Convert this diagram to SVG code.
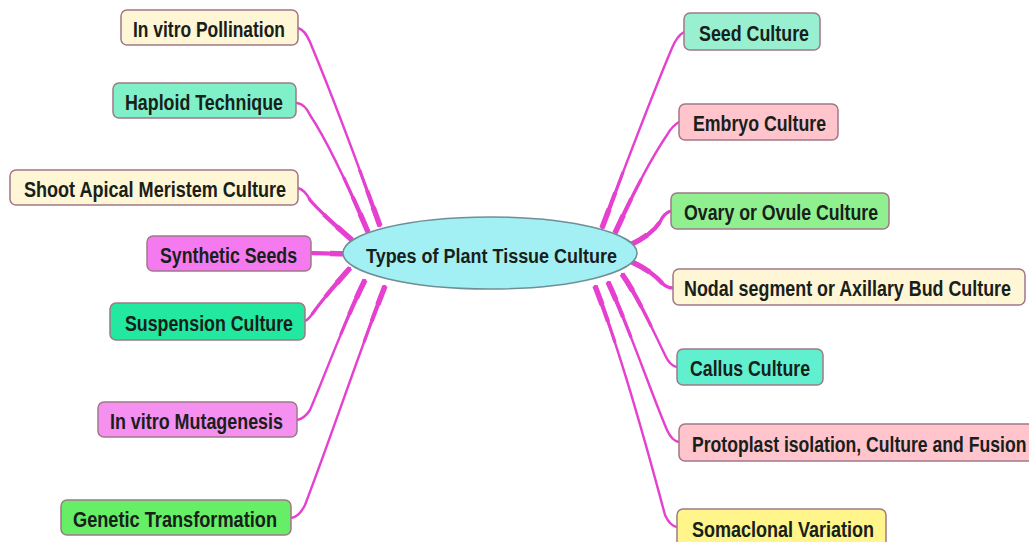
<svg xmlns="http://www.w3.org/2000/svg" xmlns:xlink="http://www.w3.org/1999/xlink" width="1029" height="542" viewBox="0 0 1029 542">
<style>
.box{stroke:#a07888;stroke-width:1.5}
.t{font-family:"Liberation Sans Narrow","Liberation Sans",Arial,sans-serif;font-weight:bold;font-size:22px;fill:#18201a}
.c{fill:none;stroke:#e540cf;stroke-width:2.4;stroke-linecap:round}
.k1{fill:none;stroke:#e540cf;stroke-width:3.2;stroke-dasharray:60 2000}
.k2{fill:none;stroke:#e540cf;stroke-width:4.2;stroke-dasharray:38 2000}
.k3{fill:none;stroke:#e540cf;stroke-width:5.4;stroke-dasharray:20 2000}
</style>
<defs>
<path id="p1" d="M380 226 C360 170,330 90,310 42 Q305 30,298 28"/>
<path id="p2" d="M368 232 C350 190,330 145,310 115 Q305 104,297 103"/>
<path id="p3" d="M352 240 C335 225,320 212,310 200 Q305 190,298 188"/>
<path id="p4" d="M350 254 L311 253"/>
<path id="p5" d="M350 268 C335 285,322 300,313 313 Q308 320,305 321"/>
<path id="p6" d="M365 280 C345 320,325 375,310 410 Q304 419,297 420"/>
<path id="p7" d="M385 286 C360 350,330 440,305 505 Q299 517,291 518"/>
<path id="p8" d="M602 228 C620 180,650 100,672 48 Q677 36,684 32"/>
<path id="p9" d="M615 233 C630 200,650 160,667 135 Q672 126,679 122"/>
<path id="p10" d="M630 245 C645 238,655 230,660 222 Q664 213,671 211"/>
<path id="p11" d="M632 262 C645 268,655 275,662 283 Q667 288,673 288"/>
<path id="p12" d="M622 274 C640 300,655 335,665 355 Q670 366,677 367"/>
<path id="p13" d="M608 282 C630 330,650 390,667 430 Q672 441,679 442"/>
<path id="p14" d="M595 286 C620 350,645 440,665 515 Q670 526,677 527"/>
</defs>
<rect width="1029" height="542" fill="#ffffff"/>
<g id="connectors">
<use xlink:href="#p1" class="c"/><use xlink:href="#p1" class="k1"/><use xlink:href="#p1" class="k2"/><use xlink:href="#p1" class="k3"/>
<use xlink:href="#p2" class="c"/><use xlink:href="#p2" class="k1"/><use xlink:href="#p2" class="k2"/><use xlink:href="#p2" class="k3"/>
<use xlink:href="#p3" class="c"/><use xlink:href="#p3" class="k1"/><use xlink:href="#p3" class="k2"/><use xlink:href="#p3" class="k3"/>
<use xlink:href="#p4" class="c"/><use xlink:href="#p4" class="k1"/><use xlink:href="#p4" class="k2"/><use xlink:href="#p4" class="k3"/>
<use xlink:href="#p5" class="c"/><use xlink:href="#p5" class="k1"/><use xlink:href="#p5" class="k2"/><use xlink:href="#p5" class="k3"/>
<use xlink:href="#p6" class="c"/><use xlink:href="#p6" class="k1"/><use xlink:href="#p6" class="k2"/><use xlink:href="#p6" class="k3"/>
<use xlink:href="#p7" class="c"/><use xlink:href="#p7" class="k1"/><use xlink:href="#p7" class="k2"/><use xlink:href="#p7" class="k3"/>
<use xlink:href="#p8" class="c"/><use xlink:href="#p8" class="k1"/><use xlink:href="#p8" class="k2"/><use xlink:href="#p8" class="k3"/>
<use xlink:href="#p9" class="c"/><use xlink:href="#p9" class="k1"/><use xlink:href="#p9" class="k2"/><use xlink:href="#p9" class="k3"/>
<use xlink:href="#p10" class="c"/><use xlink:href="#p10" class="k1"/><use xlink:href="#p10" class="k2"/><use xlink:href="#p10" class="k3"/>
<use xlink:href="#p11" class="c"/><use xlink:href="#p11" class="k1"/><use xlink:href="#p11" class="k2"/><use xlink:href="#p11" class="k3"/>
<use xlink:href="#p12" class="c"/><use xlink:href="#p12" class="k1"/><use xlink:href="#p12" class="k2"/><use xlink:href="#p12" class="k3"/>
<use xlink:href="#p13" class="c"/><use xlink:href="#p13" class="k1"/><use xlink:href="#p13" class="k2"/><use xlink:href="#p13" class="k3"/>
<use xlink:href="#p14" class="c"/><use xlink:href="#p14" class="k1"/><use xlink:href="#p14" class="k2"/><use xlink:href="#p14" class="k3"/>
</g>
<g id="center">
<ellipse cx="490" cy="253" rx="147" ry="36" fill="#a2f0f4" stroke="#6f8f96" stroke-width="1.5"/>
<text class="t" transform="translate(366 263) scale(0.8 1)" style="font-size:20px" textLength="313.75" lengthAdjust="spacingAndGlyphs">Types of Plant Tissue Culture</text>
</g>
<g id="n1"><rect class="box" x="121" y="10" width="177" height="35" rx="6" fill="#fff6d5"/><text class="t" transform="translate(133 37) scale(0.8 1)" textLength="190" lengthAdjust="spacingAndGlyphs">In vitro Pollination</text></g>
<g id="n2"><rect class="box" x="113" y="83" width="183" height="35" rx="6" fill="#80f0c8"/><text class="t" transform="translate(125 110) scale(0.8 1)" textLength="197.5" lengthAdjust="spacingAndGlyphs">Haploid Technique</text></g>
<g id="n3"><rect class="box" x="10" y="170" width="288" height="35" rx="6" fill="#fff6d5"/><text class="t" transform="translate(24 197) scale(0.8 1)" textLength="327.5" lengthAdjust="spacingAndGlyphs">Shoot Apical Meristem Culture</text></g>
<g id="n4"><rect class="box" x="147" y="236" width="164" height="35" rx="6" fill="#f57af0"/><text class="t" transform="translate(160 263) scale(0.8 1)" textLength="171.25" lengthAdjust="spacingAndGlyphs">Synthetic Seeds</text></g>
<g id="n5"><rect class="box" x="110" y="303" width="195" height="37" rx="6" fill="#22e8a0"/><text class="t" transform="translate(125 331) scale(0.8 1)" textLength="210" lengthAdjust="spacingAndGlyphs">Suspension Culture</text></g>
<g id="n6"><rect class="box" x="98" y="402" width="199" height="35" rx="6" fill="#f590f0"/><text class="t" transform="translate(110 429) scale(0.8 1)" textLength="216.25" lengthAdjust="spacingAndGlyphs">In vitro Mutagenesis</text></g>
<g id="n7"><rect class="box" x="61" y="500" width="230" height="35" rx="6" fill="#66ee66"/><text class="t" transform="translate(73 527) scale(0.8 1)" textLength="255" lengthAdjust="spacingAndGlyphs">Genetic Transformation</text></g>
<g id="n8"><rect class="box" x="684" y="13" width="136" height="37" rx="6" fill="#98f0d0"/><text class="t" transform="translate(699 41) scale(0.8 1)" textLength="137.5" lengthAdjust="spacingAndGlyphs">Seed Culture</text></g>
<g id="n9"><rect class="box" x="679" y="104" width="159" height="36" rx="6" fill="#ffc4cc"/><text class="t" transform="translate(693 131) scale(0.8 1)" textLength="166.25" lengthAdjust="spacingAndGlyphs">Embryo Culture</text></g>
<g id="n10"><rect class="box" x="671" y="193" width="218" height="36" rx="6" fill="#90f090"/><text class="t" transform="translate(684 220) scale(0.8 1)" textLength="242.5" lengthAdjust="spacingAndGlyphs">Ovary or Ovule Culture</text></g>
<g id="n11"><rect class="box" x="673" y="269" width="352" height="36" rx="6" fill="#fff6d5"/><text class="t" transform="translate(684 296) scale(0.8 1)" textLength="408.75" lengthAdjust="spacingAndGlyphs">Nodal segment or Axillary Bud Culture</text></g>
<g id="n12"><rect class="box" x="677" y="349" width="146" height="36" rx="6" fill="#60f0d0"/><text class="t" transform="translate(690 376) scale(0.8 1)" textLength="150" lengthAdjust="spacingAndGlyphs">Callus Culture</text></g>
<g id="n13"><rect class="box" x="679" y="424" width="362" height="37" rx="6" fill="#ffc4cc"/><text class="t" transform="translate(692 452) scale(0.8 1)" textLength="418" lengthAdjust="spacingAndGlyphs">Protoplast isolation, Culture and Fusion</text></g>
<g id="n14"><rect class="box" x="677" y="509" width="209" height="40" rx="6" fill="#fff58a"/><text class="t" transform="translate(692 537) scale(0.8 1)" textLength="227.5" lengthAdjust="spacingAndGlyphs">Somaclonal Variation</text></g>
</svg>
